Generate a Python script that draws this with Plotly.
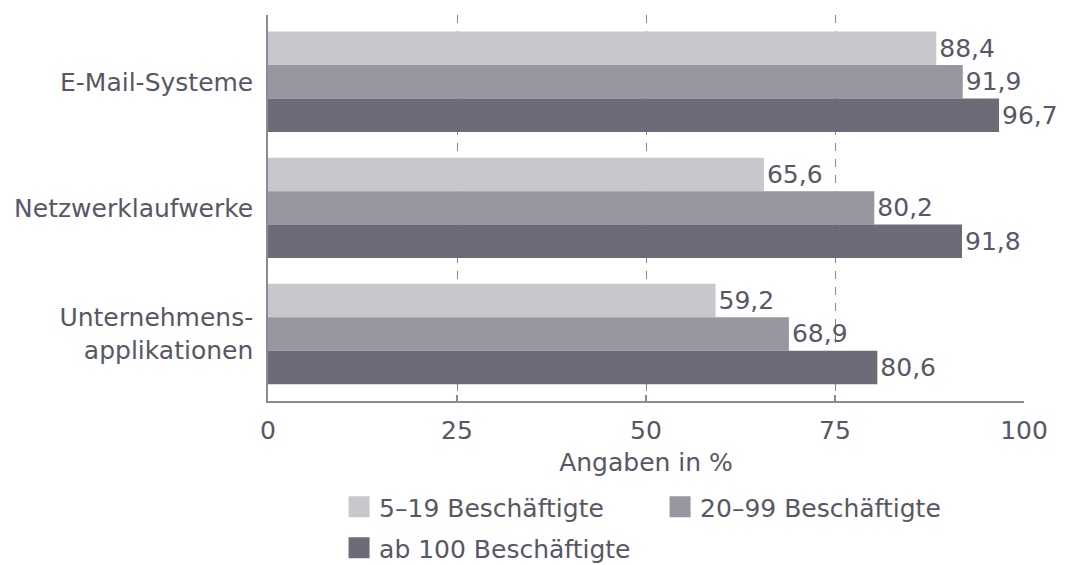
import plotly.graph_objects as go

categories = ["E-Mail-Systeme", "Netzwerklaufwerke", "Unternehmens-<br>applikationen"]
series_names = ["5–19 Beschäftigte", "20–99 Beschäftigte", "ab 100 Beschäftigte"]
values_small = [88.4, 65.6, 59.2]
values_mid = [91.9, 80.2, 68.9]
values_large = [96.7, 91.8, 80.6]
tick_values = [0, 25, 50, 75, 100]
axis_title = "Angaben in %"

colors = ["#c8c7cc", "#98969f", "#6d6b78"]
legend_ids = ["legend", "legend", "legend2"]
text_color = "#575765"
font_family = "DejaVu Sans"

fig = go.Figure()
for name, vals, col in zip(series_names, [values_small, values_mid, values_large], colors):
    fig.add_trace(go.Bar(
        y=categories, x=vals, orientation="h", name=name,
        marker=dict(color=col, line=dict(width=0)),
        texttemplate="%{x:.1f}", textposition="outside", cliponaxis=False,
        textfont=dict(family=font_family, size=25, color=text_color),
        showlegend=False,
    ))
for name, col, lg in zip(series_names, colors, legend_ids):
    fig.add_trace(go.Scatter(
        x=[None], y=[None], mode="markers", name=name, legend=lg,
        marker=dict(symbol="square", size=16, color=col, line=dict(color=col, width=5)),
        showlegend=True,
    ))

legend_common = dict(
    orientation="h", xanchor="left", yanchor="top", yref="container",
    entrywidth=276, entrywidthmode="pixels", itemsizing="trace",
    font=dict(size=25, color=text_color), bgcolor="rgba(0,0,0,0)",
)

fig.update_layout(
    width=1083, height=565,
    margin=dict(l=268, r=59, t=15, b=158),
    paper_bgcolor="white", plot_bgcolor="white",
    barmode="group", bargap=0.203, bargroupgap=0,
    separators=",.",
    font=dict(family=font_family, size=25, color=text_color),
    xaxis=dict(
        range=[0, 100], tickvals=tick_values, ticktext=[str(v) for v in tick_values],
        showgrid=True, gridcolor="#85858f", gridwidth=1.3, griddash="8px,8px",
        showline=True, linecolor="#8a8a95", linewidth=1.5,
        ticks="inside", ticklen=6, tickcolor="#8a8a95", tickwidth=1.5,
        ticklabelstandoff=6,
        title=dict(text=axis_title, standoff=10, font=dict(size=25)),
        zeroline=False,
    ),
    yaxis=dict(
        range=[2.53, -0.53], showline=True, linecolor="#8a8a95", linewidth=1.5,
        ticks="", showgrid=False, ticklabelstandoff=8,
    ),
    legend=dict(x=0.094, y=1 - 484 / 565, **legend_common),
    legend2=dict(x=0.094, y=1 - 525 / 565, **legend_common),
)

fig.write_html("out.html")
